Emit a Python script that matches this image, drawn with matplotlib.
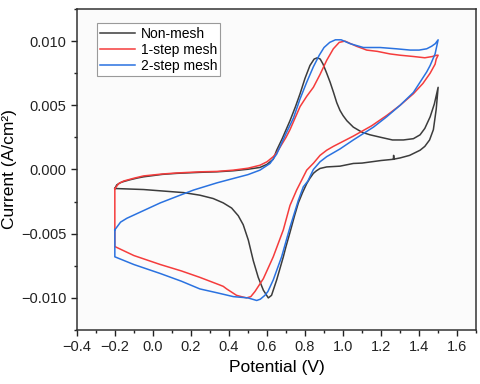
import numpy as np
import matplotlib
matplotlib.use("Agg")
import matplotlib.pyplot as plt
from matplotlib.ticker import MultipleLocator, FuncFormatter

plt.rcParams['font.family'] = ['Liberation Sans', 'DejaVu Sans']

# Non-mesh: forward sweep -0.2 -> 1.5 V, then back to -0.2 V
nonmesh_v = [-0.2, -0.19, -0.17, -0.154, -0.12, -0.08, -0.049, 0.05, 0.126, 0.25, 0.337,
             0.423, 0.5, 0.563, 0.6, 0.633, 0.651, 0.68, 0.721, 0.75, 0.774, 0.8, 0.826,
             0.848, 0.865, 0.88, 0.895, 0.914, 0.932, 0.95, 0.967, 0.984, 1.0, 1.02, 1.054,
             1.1, 1.142, 1.2, 1.26, 1.317, 1.37, 1.405, 1.43, 1.458, 1.48, 1.5,
             1.49, 1.475, 1.455, 1.43, 1.405, 1.35, 1.3, 1.265, 1.266, 1.268, 1.2, 1.1,
             1.054, 0.984, 0.914, 0.879, 0.86, 0.844, 0.825, 0.809, 0.787, 0.765, 0.745,
             0.721, 0.7, 0.686, 0.651, 0.624, 0.607, 0.581, 0.554, 0.528, 0.502, 0.475,
             0.449, 0.414, 0.37, 0.317, 0.247, 0.162, -0.049, -0.2]
nonmesh_i = [-0.00148, -0.0012, -0.00102, -0.00094, -0.0008, -0.00066, -0.00057, -0.00038,
             -0.0003, -0.00022, -0.00018, -0.0001, 0.00002, 0.00016, 0.0004, 0.0008, 0.0015,
             0.0024, 0.0038, 0.0049, 0.0059, 0.0071, 0.0081, 0.0086, 0.0087, 0.0086, 0.0082,
             0.0075, 0.0068, 0.0060, 0.0052, 0.0046, 0.0042, 0.0038, 0.0033, 0.0029, 0.0027,
             0.0025, 0.0023, 0.0023, 0.0024, 0.0027, 0.0032, 0.0041, 0.0051, 0.0064,
             0.0047, 0.0031, 0.0023, 0.0018, 0.0015, 0.0011, 0.0009, 0.0008, 0.0011, 0.0008,
             0.0007, 0.0005, 0.00047, 0.00026, 0.0002, 0.00008, -0.0001, -0.0003, -0.0007,
             -0.0011, -0.0018, -0.0026, -0.0036, -0.0049, -0.0060, -0.0068, -0.0086,
             -0.0098, -0.0100, -0.0094, -0.0084, -0.0071, -0.0055, -0.0043, -0.0036,
             -0.0030, -0.0026, -0.00226, -0.0020, -0.0018, -0.00156, -0.00148]

# 1-step mesh
step1_v = [-0.2, -0.18, -0.154, -0.1, -0.049, 0.05, 0.126, 0.25, 0.337, 0.423, 0.5, 0.563,
           0.6, 0.633, 0.651, 0.7, 0.721, 0.774, 0.809, 0.844, 0.879, 0.914, 0.949, 0.98,
           1.01, 1.04, 1.07, 1.107, 1.124, 1.18, 1.247, 1.3, 1.37, 1.43, 1.47, 1.493, 1.5,
           1.49, 1.484, 1.458, 1.42, 1.37, 1.3, 1.229, 1.15, 1.054, 0.949, 0.914, 0.879,
           0.845, 0.809, 0.78, 0.756, 0.721, 0.686, 0.633, 0.581, 0.537, 0.515, 0.493,
           0.465, 0.44, 0.388, 0.37, 0.353, 0.247, 0.15, 0.039, -0.1, -0.2, -0.2]
step1_i = [-0.0015, -0.0011, -0.0009, -0.00068, -0.0005, -0.00035, -0.00027, -0.00018,
           -0.00015, -0.00005, 0.0001, 0.00033, 0.0006, 0.001, 0.0013, 0.0025, 0.0031,
           0.0049, 0.0057, 0.0064, 0.0074, 0.0085, 0.0094, 0.0099, 0.0100, 0.0098, 0.0096,
           0.0094, 0.0093, 0.0092, 0.0090, 0.0089, 0.0088, 0.0087, 0.0088, 0.0089, 0.0089,
           0.0086, 0.0082, 0.0075, 0.0067, 0.0059, 0.0050, 0.0042, 0.0034, 0.0026, 0.0018,
           0.0015, 0.0011, 0.0005, -0.00005, -0.0009, -0.0016, -0.0028, -0.0047, -0.0068,
           -0.0085, -0.0095, -0.0099, -0.0100, -0.0099, -0.0098, -0.0093, -0.0091, -0.0090,
           -0.0084, -0.0079, -0.0074, -0.0067, -0.0060, -0.0015]

# 2-step mesh
step2_v = [-0.2, -0.17, -0.137, -0.049, 0.039, 0.126, 0.214, 0.337, 0.423, 0.5, 0.563,
           0.616, 0.651, 0.7, 0.739, 0.774, 0.809, 0.844, 0.875, 0.9, 0.93, 0.96, 0.99,
           1.037, 1.107, 1.195, 1.28, 1.353, 1.4, 1.44, 1.466, 1.485, 1.5,
           1.484, 1.458, 1.44, 1.37, 1.3, 1.229, 1.16, 1.054, 0.984, 0.914, 0.879, 0.844,
           0.815, 0.791, 0.765, 0.721, 0.677, 0.633, 0.605, 0.589, 0.565, 0.546, 0.5, 0.423,
           0.337, 0.247, 0.15, 0.039, -0.1, -0.2, -0.2]
step2_i = [-0.0047, -0.0041, -0.0038, -0.0032, -0.0026, -0.0021, -0.0016, -0.00104,
           -0.0007, -0.0004, -0.00005, 0.00047, 0.0012, 0.0028, 0.0040, 0.0055, 0.0068,
           0.0080, 0.0089, 0.0095, 0.0099, 0.0101, 0.0101, 0.0098, 0.0095, 0.0095, 0.0094,
           0.0093, 0.0093, 0.0094, 0.0096, 0.0098, 0.0101,
           0.0090, 0.0081, 0.0076, 0.0060, 0.0050, 0.0041, 0.0033, 0.0023, 0.0016, 0.0010,
           0.0006, 0.0, -0.0009, -0.00135, -0.0024, -0.0045, -0.0068, -0.0086, -0.0095,
           -0.0098, -0.0101, -0.0102, -0.0100, -0.0099, -0.0096, -0.0093, -0.0087, -0.0081,
           -0.0074, -0.0068, -0.0047]

fig = plt.figure(figsize=(4.8, 3.84), dpi=100)
ax = fig.add_axes([0.160, 0.1406, 0.832, 0.836])
ax.set_facecolor('#fbfbfb')

ax.plot(nonmesh_v, nonmesh_i, color='#3c3c3c', lw=1.1, label='Non-mesh')
ax.plot(step1_v, step1_i, color='#f53c3c', lw=1.1, label='1-step mesh')
ax.plot(step2_v, step2_i, color='#2a72e0', lw=1.1, label='2-step mesh')

ax.set_xlim(-0.4, 1.7)
ax.set_ylim(-0.0125, 0.0125)
ax.xaxis.set_major_locator(MultipleLocator(0.2))
ax.xaxis.set_minor_locator(MultipleLocator(0.1))
ax.yaxis.set_major_locator(MultipleLocator(0.005))
ax.yaxis.set_minor_locator(MultipleLocator(0.0025))
ax.xaxis.set_major_formatter(FuncFormatter(lambda v, p: ('%.1f' % v).replace('-', '\u2212')))
ax.yaxis.set_major_formatter(FuncFormatter(lambda v, p: ('%.3f' % (0 if abs(v) < 1e-9 else v)).replace('-', '\u2212')))
ax.tick_params(which='major', direction='out', length=4, width=1, labelsize=10.5, colors='#222222')
ax.tick_params(which='minor', direction='out', length=2.5, width=1, colors='#222222')
for s in ax.spines.values():
    s.set_color('#333333')
    s.set_linewidth(1.1)

ax.set_xlabel('Potential (V)', fontsize=12.5, labelpad=4)
ax.set_ylabel('Current (A/cm\u00b2)', fontsize=12.5, labelpad=3)

leg = ax.legend(loc='upper left', bbox_to_anchor=(0.05, 0.956), borderaxespad=0,
                fontsize=10, fancybox=False, edgecolor='#9a9a9a', framealpha=1,
                handlelength=2.5, handletextpad=0.4, labelspacing=0.15, borderpad=0.25)
leg.get_frame().set_linewidth(0.8)

fig.savefig('out.png', dpi=100, facecolor='white')
